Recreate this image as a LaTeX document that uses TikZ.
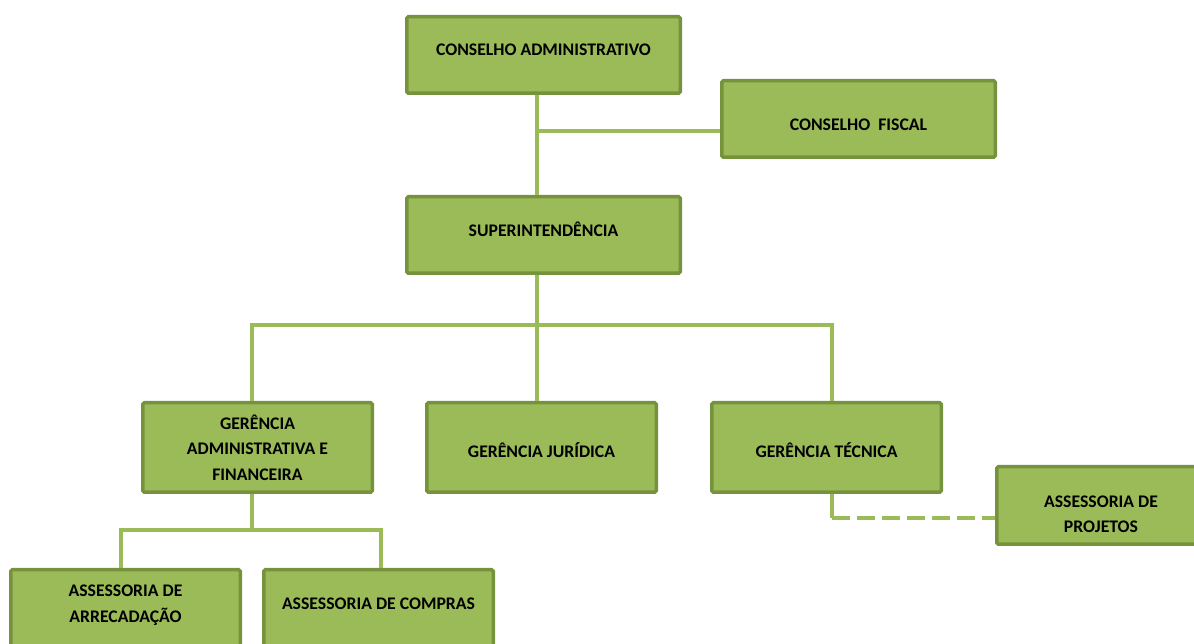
\documentclass[tikz,border=0pt]{standalone}
\usepackage{fontspec}
\setmainfont{Carlito}
\usetikzlibrary{positioning}

\definecolor{verdecaixa}{HTML}{9BBB59}
\definecolor{verdeborda}{HTML}{76923C}

\begin{document}
\begin{tikzpicture}[
        x=1pt, y=1pt,
        % Estilos das caixas
        caixa/.style={
                rectangle,
                rounded corners=1.5pt,
                draw=verdeborda,
                fill=verdecaixa,
                line width=3.5pt,
                align=center,
                text=black,
                font=\bfseries\fontsize{17.7}{25.5}\selectfont
            },
        caixalarga/.style={
                caixa,
                minimum width=273.5pt,
                minimum height=76.5pt
            },
        caixamedia/.style={
                caixa,
                minimum width=229.5pt,
                minimum height=89.5pt
            },
        % Ligações
        ligacao/.style={
                line width=4pt,
                color=verdecaixa
            },
        tracejada/.style={
                ligacao,
                dash pattern=on 18pt off 7pt
            }
    ]

    \useasboundingbox (0,0) rectangle (1194,644);

    % Conselhos e superintendência
    \node[caixalarga, text depth=10pt] (conselho) at (543.5,589) {CONSELHO ADMINISTRATIVO};

    \node[caixalarga, text height=23pt, right=38pt of conselho, yshift=-64pt] (fiscal) {CONSELHO~ FISCAL};

    \node[caixalarga, text depth=12pt, below=100pt of conselho] (super) {SUPERINTENDÊNCIA};

    % Gerências
    \node[caixamedia, text height=20pt, below=126pt of super, xshift=-2pt] (juridica) {GERÊNCIA JURÍDICA};

    \node[caixamedia, left=51pt of juridica] (administrativa) {
        GERÊNCIA\\
        ADMINISTRATIVA E\\
        FINANCEIRA
    };

    \node[caixamedia, text height=20pt, right=52pt of juridica] (tecnica) {GERÊNCIA TÉCNICA};

    % Assessorias
    \node[caixa, minimum width=208.5pt, minimum height=77.5pt, text height=55pt, right=52pt of tecnica, yshift=-58pt] (projetos) {
        ASSESSORIA DE\\
        PROJETOS
    };

    \node[caixamedia, text depth=22pt, below=74pt of administrativa, xshift=121pt] (compras) {ASSESSORIA DE COMPRAS};

    \node[caixamedia, text depth=22pt, left=20pt of compras] (arrecadacao) {
        ASSESSORIA DE\\
        ARRECADAÇÃO
    };

    % Ligações
    \draw[ligacao] ([xshift=-6.5pt]conselho.south) -- ([xshift=-6.5pt]super.north);
    \draw[ligacao] ([yshift=-12pt]fiscal.west) -| ([xshift=-6.5pt]conselho.south);

    \draw[ligacao] ([xshift=-6.5pt]super.south) -- ([xshift=-4.5pt]juridica.north);
    \draw[ligacao] ([xshift=-5.5pt]administrativa.north) |- ([yshift=-50pt]super.south) -| ([xshift=5.5pt]tecnica.north);

    \draw[ligacao] ([xshift=-5.5pt]administrativa.south) -- ([xshift=-5.5pt, yshift=-36pt]administrativa.south);
    \draw[ligacao] ([xshift=-4.5pt]arrecadacao.north) |- ([yshift=-36pt]administrativa.south) -| ([xshift=2.5pt]compras.north);

    \draw[ligacao] ([xshift=5.5pt]tecnica.south) -- ++(0,-24) coordinate (joelho);
    \draw[tracejada] (joelho) -- (joelho -| projetos.west);

\end{tikzpicture}
\end{document}
